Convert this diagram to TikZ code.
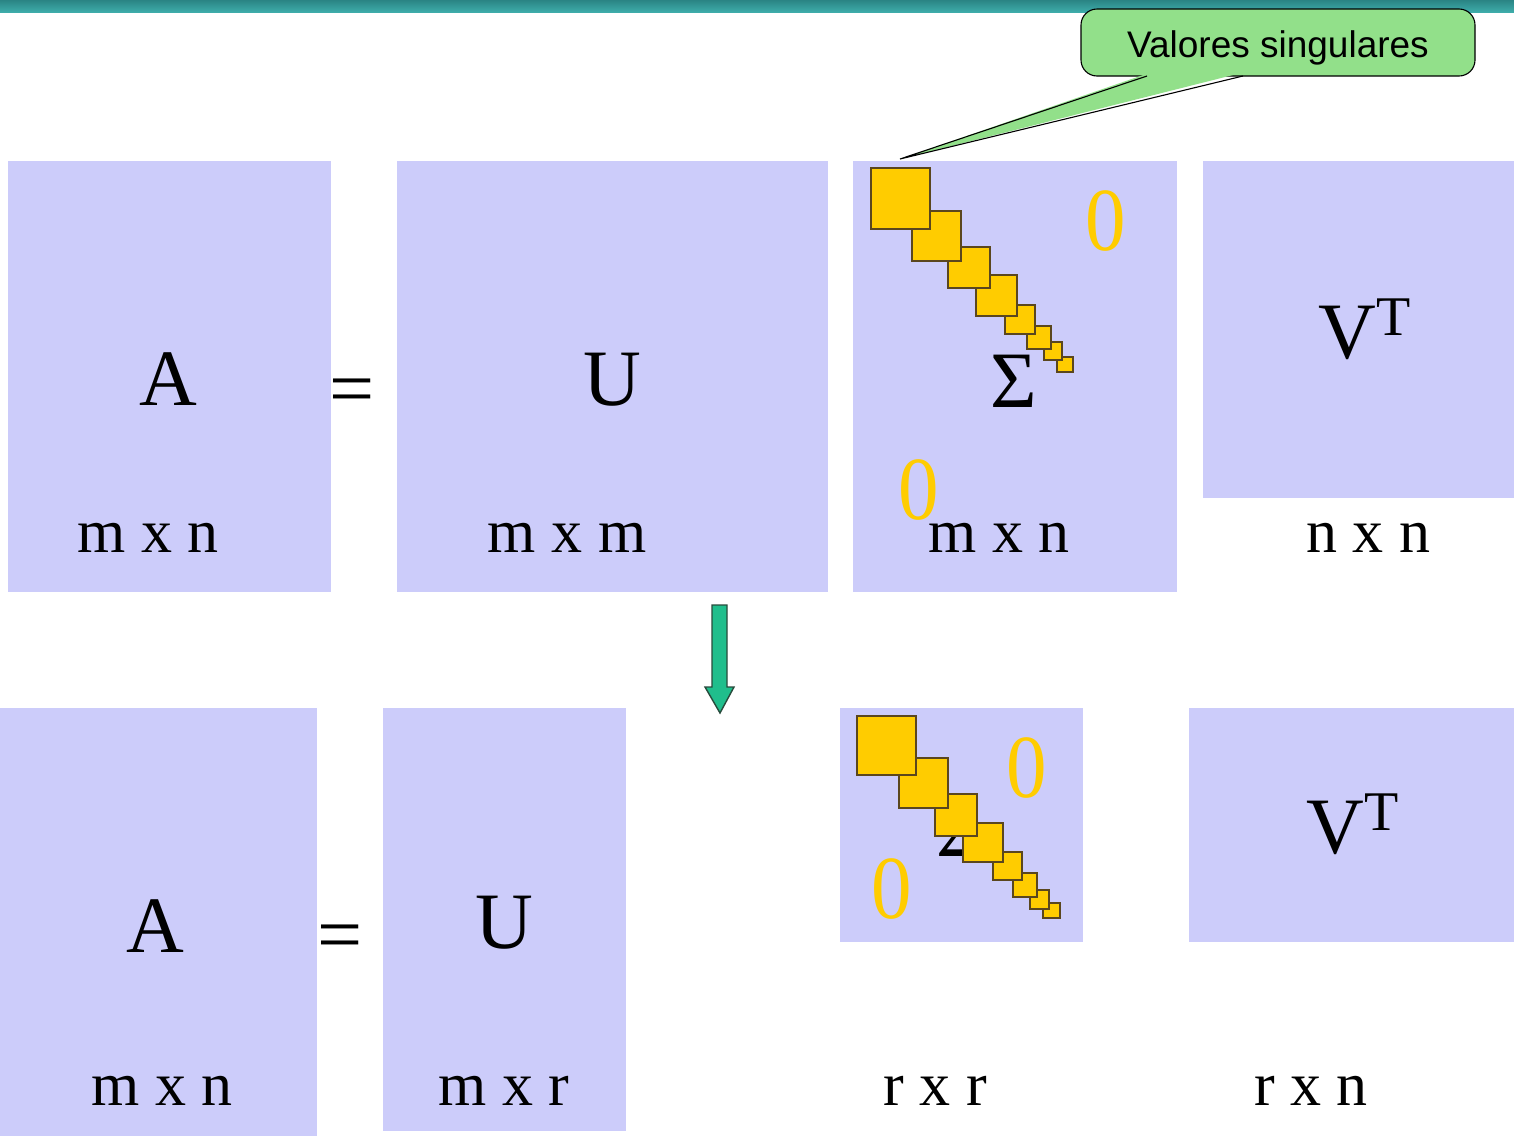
\documentclass[tikz,border=0pt]{standalone}
\usepackage{fontspec}
\setmainfont{Liberation Serif}
\newfontfamily\calloutfont{Liberation Sans}
\definecolor{matfill}{RGB}{204,204,250}
\definecolor{sqfill}{RGB}{255,204,0}
\definecolor{sqdraw}{RGB}{90,70,30}
\definecolor{zerocol}{RGB}{255,204,0}
\definecolor{barA}{RGB}{42,132,132}
\definecolor{barB}{RGB}{62,172,170}
\definecolor{callfill}{RGB}{146,224,138}
\definecolor{arrfill}{RGB}{32,190,140}
\definecolor{arrdraw}{RGB}{40,75,60}
\begin{document}
\begin{tikzpicture}[x=1pt,y=-1pt,
  mat/.style={fill=matfill},
  sq/.style={fill=sqfill, draw=sqdraw, line width=1.8pt},
  big/.style={font=\fontsize{80}{80}\selectfont, inner sep=0pt, anchor=base},
  sup/.style={font=\fontsize{56}{56}\selectfont, inner sep=0pt, anchor=base west},
  dimlab/.style={font=\fontsize{62}{62}\selectfont, inner sep=0pt, anchor=base},
  zero/.style={font=\fontsize{90}{90}\selectfont, text=zerocol, inner sep=0pt, anchor=base, xscale=0.9},
  callout/.style={fill=callfill, draw=black, line width=1.1pt}]
\useasboundingbox (0,0) rectangle (1514,1136);
\fill[white] (0,0) rectangle (1514,1136);
% top bar
\shade[top color=barA, bottom color=barB] (0,0) rectangle (1514,12);

% ---------- top row ----------
\fill[mat] (8,161) rectangle (331,592);
\fill[mat] (397,161) rectangle (828,592);
\fill[mat] (853,161) rectangle (1177,592);
\fill[mat] (1203,161) rectangle (1514,498);

\node[big] (tA) at (168,405) {A};
\node[big] (teq) at (352,415) {=};
\node[big] (tU) at (612,405) {U};
\node[big] (tS) at (1014,407) {Σ};
\node[big, anchor=base west] (tV) at (1318,358) {V};
\node[sup] (tT) at (1376,335) {T};

\node[dimlab] (tdA) at (148,552) {m x n};
\node[dimlab] (tdU) at (567,552) {m x m};
\node[dimlab] (tdS) at (999,552) {m x n};
\node[dimlab] (tdV) at (1368,552) {n x n};

\node[zero] (tz1) at (1106,250) {0};
\node[zero] (tz2) at (919,519) {0};

% squares (largest on top)
\draw[sq] (1057,357) rectangle (1073,372);
\draw[sq] (1044,342) rectangle (1062,360);
\draw[sq] (1027,326) rectangle (1051,349);
\draw[sq] (1005,305) rectangle (1035,334);
\draw[sq] (976,275) rectangle (1017,316);
\draw[sq] (948,247) rectangle (990,288);
\draw[sq] (912,211) rectangle (961,261);
\draw[sq] (871,168) rectangle (930,229);

% ---------- arrow ----------
\filldraw[fill=arrfill, draw=arrdraw, line width=1.4pt, line join=miter]
  (712,605) -- (727,605) -- (727,687) -- (734,687) -- (720,713) -- (705,687) -- (712,687) -- cycle;

% ---------- bottom row ----------
\fill[mat] (0,708) rectangle (317,1136);
\fill[mat] (383,708) rectangle (626,1131);
\fill[mat] (840,708) rectangle (1083,942);
\fill[mat] (1189,708) rectangle (1514,942);

\node[big] (bA) at (155,952) {A};
\node[big] (beq) at (340,961) {=};
\node[big] (bU) at (504,948) {U};
\node[big] (bS) at (960,856) {Σ};
\node[big, anchor=base west] (bV) at (1306,853) {V};
\node[sup] (bT) at (1364,830) {T};

\node[dimlab] (bdA) at (162,1105) {m x n};
\node[dimlab] (bdU) at (504,1105) {m x r};
\node[dimlab] (bdS) at (935,1105) {r x r};
\node[dimlab] (bdV) at (1311,1105) {r x n};

\node[zero] (bz1) at (1027,797) {0};
\node[zero] (bz2) at (892,918) {0};

\draw[sq] (1043,903) rectangle (1060,918);
\draw[sq] (1030,890) rectangle (1049,909);
\draw[sq] (1013,873) rectangle (1037,897);
\draw[sq] (993,852) rectangle (1022,880);
\draw[sq] (963,823) rectangle (1003,862);
\draw[sq] (935,794) rectangle (977,836);
\draw[sq] (899,758) rectangle (948,808);
\draw[sq] (857,716) rectangle (916,775);

% ---------- callout ----------
\draw[callout, rounded corners=16] (1081,9) rectangle (1475,76);
\fill[callfill] (1149,73) -- (1241,73) -- (900,159) -- cycle;
\draw[line width=1.1pt, line join=miter] (1147,76) -- (900,159) -- (1243,76);
\node[font=\calloutfont\fontsize{37}{37}\selectfont, inner sep=0pt, anchor=base] (cl) at (1278,57) {Valores singulares};
\coordinate (tip) at (900,159);
\end{tikzpicture}
\end{document}
